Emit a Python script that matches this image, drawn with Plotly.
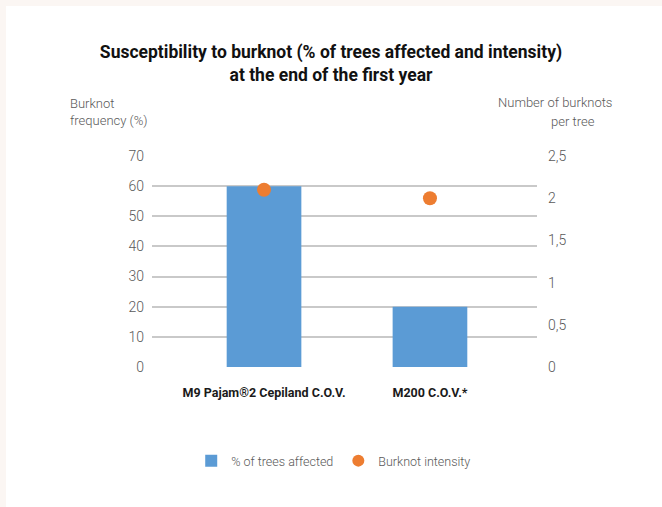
import plotly.graph_objects as go

categories = ["M9 Pajam®2 Cepiland C.O.V.", "M200 C.O.V.*"]
pct_trees_affected = [60, 20]
burknot_intensity = [2.1, 2.0]
left_ticks = [0, 10, 20, 30, 40, 50, 60, 70]
right_ticks = [0, 0.5, 1, 1.5, 2, 2.5]

W, H = 662, 507
ML, MR, MT, MB = 152, 125, 156, 140
PW, PH = W - ML - MR, H - MT - MB

FONT = "Roboto, sans-serif"

fig = go.Figure()
fig.add_trace(go.Bar(
    x=categories, y=pct_trees_affected, name="% of trees affected",
    marker=dict(color="#5b9bd5", line=dict(width=0)), width=0.45, yaxis="y",
))
fig.add_trace(go.Scatter(
    x=categories, y=burknot_intensity, name="Burknot intensity", mode="markers",
    marker=dict(color="#ed7d31", size=14), yaxis="y2",
))

fig.update_layout(
    width=W, height=H,
    margin=dict(l=ML, r=MR, t=MT, b=MB, autoexpand=False),
    paper_bgcolor="white", plot_bgcolor="white",
    separators=",.",
    font=dict(family=FONT, color="#595959", size=13, weight=300),
    title=dict(
        text="Susceptibility to burknot (% of trees affected and intensity)<br>at the end of the first year",
        x=0.5, xanchor="center", xref="container",
        y=1 - 58 / H, yanchor="middle", yref="container",
        font=dict(family=FONT, size=17.5, color="#111111", weight=700),
    ),
    xaxis=dict(
        type="category", range=[-0.675, 1.645], showgrid=False, zeroline=False,
        showline=False, ticks="", ticklabelstandoff=16,
        tickfont=dict(family=FONT, size=12.5, color="#1a1a1a", weight=700),
    ),
    yaxis=dict(
        range=[0, 70], tickvals=left_ticks, showgrid=True, gridcolor="#c9c9c9",
        gridwidth=1.5, zeroline=False, showline=False, ticks="",
        tickfont=dict(family=FONT, size=14, color="#595959", weight=300),
        ticklabelstandoff=7,
    ),
    yaxis2=dict(
        range=[0, 2.5], tickvals=right_ticks, overlaying="y", side="right",
        showgrid=False, zeroline=False, showline=False, ticks="",
        tickfont=dict(family=FONT, size=14, color="#595959", weight=300),
        ticklabelstandoff=10,
    ),
    legend=dict(
        orientation="h", x=0.472, xanchor="center", yref="container",
        y=1 - 461 / H, yanchor="middle", itemwidth=30,
        font=dict(family=FONT, size=12.5, color="#595959", weight=300),
        itemsizing="constant", traceorder="normal",
    ),
    showlegend=True,
)

# faint beige frame around white card
fig.add_shape(type="rect", xref="paper", yref="paper",
              x0=(0 - ML) / PW, x1=(W - ML) / PW,
              y0=(MT + PH - 0) / PH, y1=(MT + PH - H) / PH,
              fillcolor="#fbf6f3", line=dict(width=0), layer="below")
fig.add_shape(type="rect", xref="paper", yref="paper",
              x0=(6 - ML) / PW, x1=(W - ML) / PW,
              y0=(MT + PH - 6) / PH, y1=(MT + PH - H) / PH,
              fillcolor="white", line=dict(width=0), layer="below")

fig.add_annotation(text="Burknot<br>frequency (%)", xref="paper", yref="paper",
                   x=(68 - ML) / PW, xanchor="left", y=(MT + PH - 112) / PH,
                   yanchor="middle", align="left", showarrow=False,
                   font=dict(family=FONT, size=13, color="#595959", weight=300))
fig.add_annotation(text="Number of burknots", xref="paper", yref="paper",
                   x=(614 - ML) / PW, xanchor="right", y=(MT + PH - 102) / PH,
                   yanchor="middle", showarrow=False,
                   font=dict(family=FONT, size=13, color="#595959", weight=300))
fig.add_annotation(text="per tree", xref="paper", yref="paper",
                   x=(597 - ML) / PW, xanchor="right", y=(MT + PH - 121) / PH,
                   yanchor="middle", showarrow=False,
                   font=dict(family=FONT, size=13, color="#595959", weight=300))

fig.write_html("out.html", config={"displayModeBar": False},
               post_script="document.body.style.margin='0';")
